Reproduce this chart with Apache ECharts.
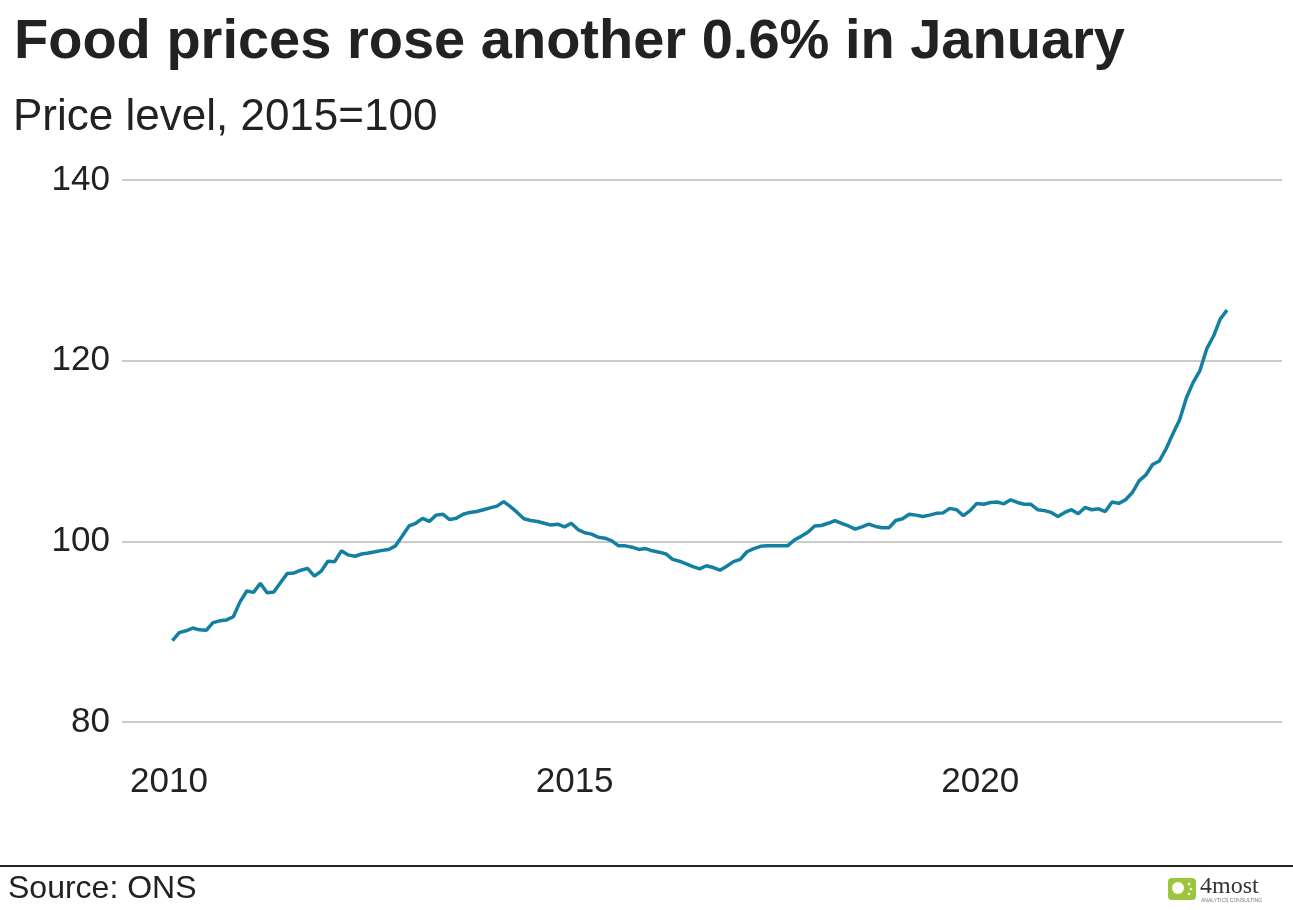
<!DOCTYPE html>
<html>
<head>
<meta charset="utf-8">
<script src="https://cdn.jsdelivr.net/npm/echarts@6/dist/echarts.min.js"></script>
<style>
html,body{margin:0;padding:0;background:#fff;}
#chart{width:1293px;height:910px;}
</style>
</head>
<body>
<div id="chart"></div>
<script>
// Monthly food price index (2015=100), Jan 2010 .. Jan 2023
const startYear = 2010;
const foodIndex = [
  89.0, 89.9, 90.1, 90.4, 90.2, 90.15, 91.0, 91.2, 91.3, 91.65, 93.3, 94.5,
  94.35, 95.35, 94.3, 94.4, 95.45, 96.45, 96.5, 96.8, 97.0, 96.15, 96.7, 97.8,
  97.75, 98.95, 98.5, 98.35, 98.6, 98.7, 98.85, 99.0, 99.1, 99.5, 100.6, 101.7,
  102.0, 102.55, 102.2, 102.9, 103.0, 102.4, 102.55, 103.0, 103.2, 103.3, 103.5, 103.7,
  103.9, 104.4, 103.85, 103.2, 102.5, 102.3, 102.2, 102.0, 101.8, 101.9, 101.6, 102.0,
  101.3, 100.95, 100.8, 100.45, 100.35, 100.05, 99.5, 99.5, 99.35, 99.1, 99.2, 98.95,
  98.8, 98.6, 98.0, 97.8, 97.5, 97.2, 96.95, 97.3, 97.1, 96.8, 97.25, 97.75,
  98.0, 98.85, 99.2, 99.45, 99.5, 99.5, 99.5, 99.5, 100.15, 100.55, 101.0, 101.7,
  101.75, 102.0, 102.3, 102.0, 101.7, 101.35, 101.6, 101.9, 101.65, 101.5, 101.5, 102.3,
  102.5, 103.0, 102.9, 102.75, 102.9, 103.1, 103.15, 103.65, 103.5, 102.85, 103.4, 104.2,
  104.1, 104.3, 104.35, 104.15, 104.6, 104.3, 104.1, 104.1, 103.5, 103.4, 103.2, 102.75,
  103.2, 103.5, 103.05, 103.75, 103.5, 103.6, 103.3, 104.35, 104.2, 104.6, 105.4, 106.7,
  107.35, 108.5, 108.9, 110.25, 111.9, 113.45, 115.9, 117.6, 118.9, 121.3, 122.7, 124.6,
  125.6
];
const xTickLabels = [2010, 2015, 2020];
const yTickLabels = [80, 100, 120, 140];

const titleText = 'Food prices rose another 0.6% in January';
const subtitleText = 'Price level, 2015=100';
const sourceText = 'Source: ONS';

const seriesData = foodIndex.map((v, i) => [startYear + (i + 0.5) / 12, v]);

const FONT = '"Liberation Sans", Arial, Helvetica, sans-serif';
const chart = echarts.init(document.getElementById('chart'), null, {renderer: 'canvas'});
chart.setOption({
  animation: false,
  backgroundColor: '#ffffff',
  title: [
    {text: titleText, left: 9, top: 10,
     textStyle: {fontFamily: FONT, fontSize: 56, fontWeight: 'bold', color: '#222222'}},
    {text: subtitleText, left: 8, top: 91,
     textStyle: {fontFamily: FONT, fontSize: 44, fontWeight: 'normal', color: '#222222'}}
  ],
  grid: {left: 122, right: 11, top: 180, bottom: 188, containLabel: false},
  xAxis: {
    type: 'value',
    min: 2009.42,
    max: 2023.72,
    axisLine: {show: false},
    axisTick: {show: false},
    splitLine: {show: false},
    axisLabel: {
      customValues: xTickLabels,
      margin: 43,
      fontFamily: FONT, fontSize: 35, color: '#222222',
      formatter: v => String(Math.round(v))
    }
  },
  yAxis: {
    type: 'value',
    min: 80, max: 140, interval: 20,
    axisLine: {show: false},
    axisTick: {show: false},
    splitLine: {show: true, lineStyle: {color: '#cbcbcb', width: 2}},
    axisLabel: {
      customValues: yTickLabels,
      margin: 12,
      fontFamily: FONT, fontSize: 35, color: '#222222'
    }
  },
  series: [{
    type: 'line',
    data: seriesData,
    showSymbol: false,
    lineStyle: {color: '#1380A1', width: 3.5},
    itemStyle: {color: '#1380A1'}
  }],
  graphic: [
    {type: 'line', shape: {x1: 0, y1: 866, x2: 1293, y2: 866}, style: {stroke: '#222222', lineWidth: 2}},
    {type: 'text', left: 8, top: 873, style: {text: sourceText, fontFamily: FONT, fontSize: 32, fill: '#222222'}},
    {type: 'group', left: 1168, top: 875, children: [
      {type: 'rect', shape: {x: 0, y: 0, width: 28, height: 22, r: 4}, style: {fill: '#9cc43c'}},
      {type: 'circle', shape: {cx: 10, cy: 10, r: 6}, style: {fill: '#ffffff'}},
      {type: 'circle', shape: {cx: 21, cy: 6, r: 1.3}, style: {fill: '#ffffff'}},
      {type: 'circle', shape: {cx: 23, cy: 11, r: 1.3}, style: {fill: '#ffffff'}},
      {type: 'circle', shape: {cx: 21, cy: 16, r: 1.3}, style: {fill: '#ffffff'}},
      {type: 'text', x: 32, y: -3, style: {text: '4most', fontFamily: '"Liberation Serif", "DejaVu Serif", serif', fontSize: 24, fill: '#333333'}},
      {type: 'text', x: 33, y: 20, style: {text: 'ANALYTICS CONSULTING', fontFamily: FONT, fontSize: 5, fill: '#777777'}}
    ]}
  ]
});
</script>
</body>
</html>
